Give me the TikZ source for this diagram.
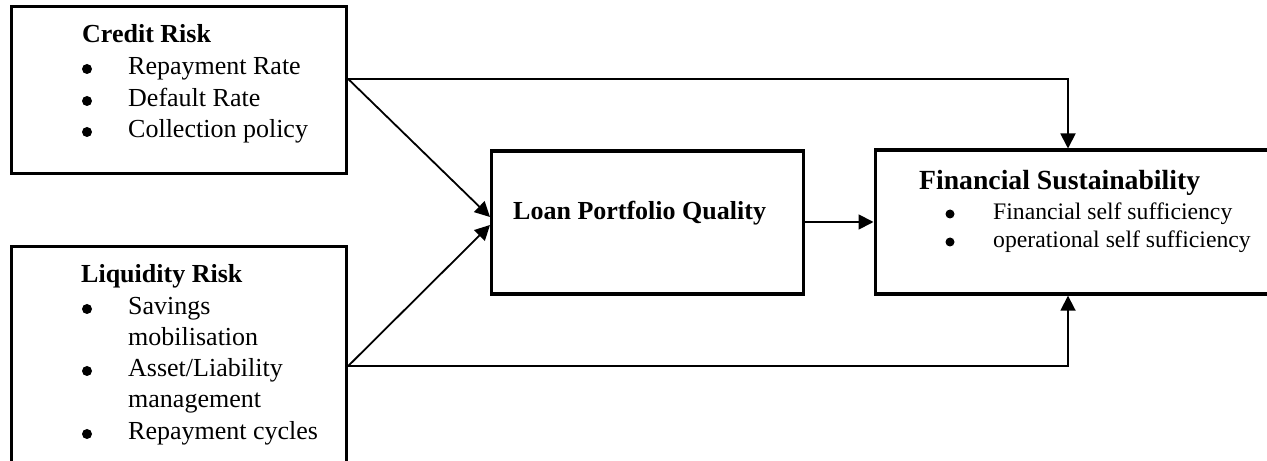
\documentclass[tikz,border=0pt]{standalone}
\usepackage{fontspec}
\setmainfont{Liberation Serif}
\usetikzlibrary{arrows.meta}
\begin{document}
\begin{tikzpicture}[x=1bp,y=-1bp,
  box/.style={draw, line width=3.2bp, rectangle, inner sep=0pt, anchor=north west},
  link/.style={line width=1.8bp, -{Triangle[length=15bp,width=15bp]}},
  txt/.style={anchor=base west, inner sep=0pt,
    font=\fontsize{26bp}{31.5bp}\selectfont},
  head/.style={txt, font=\fontsize{26bp}{31.5bp}\selectfont\bfseries},
  bighead/.style={txt, font=\fontsize{27.7bp}{33bp}\selectfont\bfseries},
  small/.style={txt, font=\fontsize{23.7bp}{28bp}\selectfont},
  dot/.style={circle, fill, inner sep=0pt, minimum size=10bp},
  smalldot/.style={dot, minimum size=9bp}]
\useasboundingbox (0,0) rectangle (1267,461);

% boxes
\node[box, minimum width=335bp, minimum height=167bp] (credit) at (10,5) {};
\node[box, minimum width=335bp, minimum height=240bp] (liq) at (10,245) {};
\node[box, minimum width=312bp, minimum height=143bp] (lpq) at (490,149.5) {};
\node[box, minimum width=420bp, minimum height=144bp] (fs) at (873.5,148.5) {};

% credit risk text
\node[head] (crh) at (82,43) {Credit Risk};
\node[dot] (crb1) at (87,69) {};
\node[txt] (cr1) at (128,75) {Repayment Rate};
\node[dot] (crb2) at (87,101) {};
\node[txt] (cr2) at (128,107) {Default Rate};
\node[dot] (crb3) at (87,132) {};
\node[txt] (cr3) at (128,138) {Collection policy};

% liquidity risk text
\node[head] (lqh) at (81,283) {Liquidity Risk};
\node[dot] (lqb1) at (87,309) {};
\node[txt] (lq1a) at (128,315) {Savings};
\node[txt] (lq1b) at (128,346) {mobilisation};
\node[dot] (lqb2) at (87,371) {};
\node[txt] (lq2a) at (128,377) {Asset/Liability};
\node[txt] (lq2b) at (128,408) {management};
\node[dot] (lqb3) at (87,434) {};
\node[txt] (lq3) at (128,440) {Repayment cycles};

% loan portfolio quality text
\node[head] (lpqt) at (513,220) {Loan Portfolio Quality};

% financial sustainability text
\node[bighead] (fsh) at (919,190) {Financial Sustainability};
\node[smalldot] (fsb1) at (950,214) {};
\node[small] (fs1) at (993,220) {Financial self sufficiency};
\node[smalldot] (fsb2) at (950,242) {};
\node[small] (fs2) at (993,248) {operational self sufficiency};

% reference levels for the connectors
\coordinate (yTop) at (0,79);
\coordinate (yBot) at (0,366);
\coordinate (yA) at (0,217);
\coordinate (yB) at (0,225);
\coordinate (yC) at (0,222);
\coordinate (xMid) at (1068,0);

% connectors
\draw[link] (credit.east |- yTop) -| (fs.north -| xMid);
\draw[link] (credit.east |- yTop) -- (lpq.west |- yA);
\draw[link] (liq.east |- yBot) -- (lpq.west |- yB);
\draw[link] (liq.east |- yBot) -| (fs.south -| xMid);
\draw[link] (lpq.east |- yC) -- (fs.west |- yC);
\end{tikzpicture}
\end{document}
